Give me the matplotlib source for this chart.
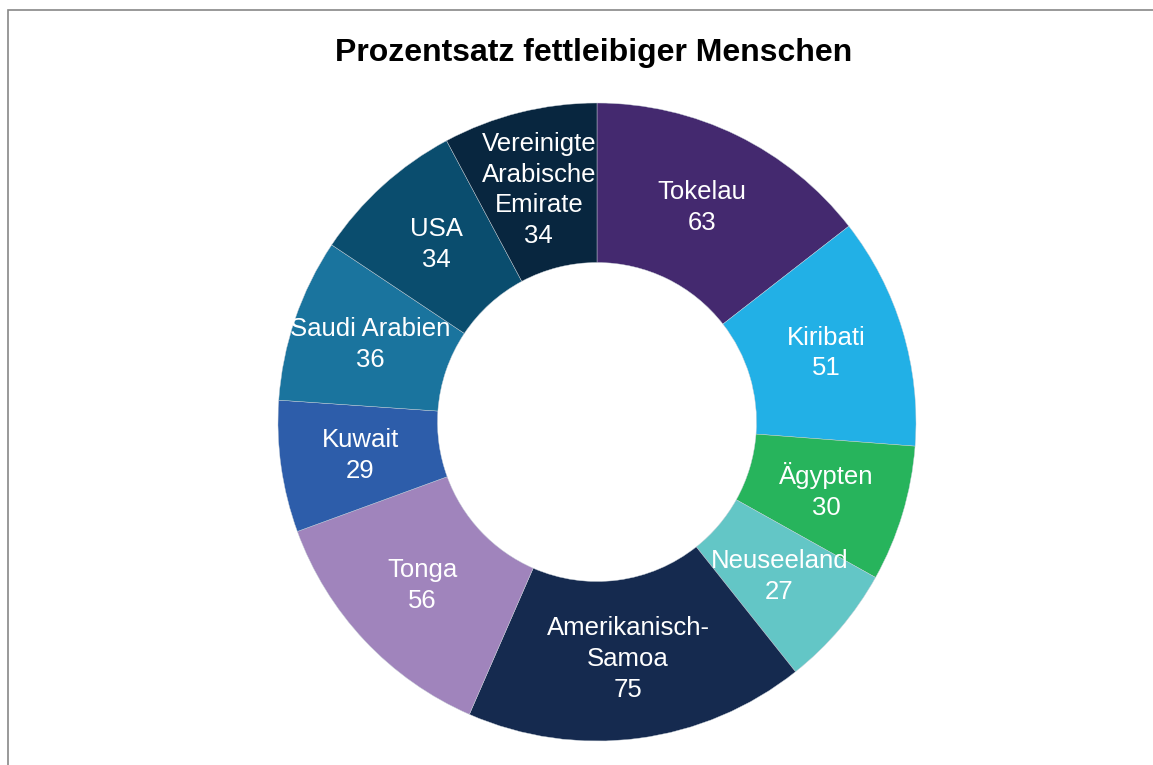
import matplotlib.pyplot as plt
from matplotlib.patches import Rectangle

plt.rcParams['font.family'] = ['Liberation Sans', 'DejaVu Sans']

laender = ['Tokelau', 'Kiribati', 'Ägypten', 'Neuseeland', 'Amerikanisch-\nSamoa',
           'Tonga', 'Kuwait', 'Saudi Arabien', 'USA', 'Vereinigte\nArabische\nEmirate']
werte = [63, 51, 30, 27, 75, 56, 29, 36, 34, 34]
farben = ['#44296f', '#22b0e6', '#27b45c', '#63c6c6', '#152a4f',
          '#a084bc', '#2d5daa', '#1a749e', '#0a4d6e', '#08263f']

fig = plt.figure(figsize=(11.53, 7.65), dpi=100)
# rahmen um die grafik (rechts/unten abgeschnitten)
fig.patches.append(Rectangle((8 / 1153, -0.05), 1.1, 1 - 10 / 765 + 0.05,
                             transform=fig.transFigure, fill=False,
                             edgecolor='#888888', linewidth=1.2))

# mitte ca. (597, 422), aussenradius ~319 px
cx, cy, r = 597, 422, 319
ax = fig.add_axes([(cx - r) / 1153, 1 - (cy + r) / 765, 2 * r / 1153, 2 * r / 765])
labels = [f'{l}\n{v}' for l, v in zip(laender, werte)]
wedges, texts = ax.pie(werte, colors=farben, startangle=90, counterclock=False,
                       radius=1.0, labels=labels, labeldistance=0.75,
                       wedgeprops=dict(width=0.5, edgecolor='#c8d0d8', linewidth=0.3),
                       textprops=dict(color='white', fontsize=18.5, ha='center',
                                      va='center', linespacing=1.36))
for t in texts:
    t.set_horizontalalignment('center')
ax.set_xlim(-1, 1)
ax.set_ylim(-1, 1)
ax.set_aspect('equal')

fig.text(594 / 1153, 1 - 53 / 765, 'Prozentsatz fettleibiger Menschen',
         ha='center', va='center', fontsize=23, fontweight='bold')

fig.savefig('out.png', dpi=100)
